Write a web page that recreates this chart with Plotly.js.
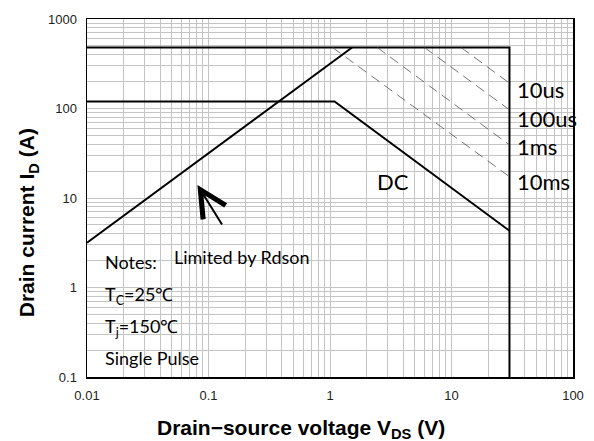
<!DOCTYPE html>
<html>
<head>
<meta charset="utf-8">
<script src="https://cdn.plot.ly/plotly-3.0.1.min.js"></script>
<style>html,body{margin:0;padding:0;background:#fff;}#chart{width:594px;height:441px;}</style>
</head>
<body>
<div id="chart"></div>
<script>
// ---- data ----
const xTickVals = [0.01, 0.1, 1, 10, 100];
const xTickText = ["0.01", "0.1", "1", "10", "100"];
const yTickVals = [0.1, 1, 10, 100, 1000];
const yTickText = ["0.1", "1", "10", "100", "1000"];

// package / BVDSS limit (480 A, 30 V)
const limitV = [0.01, 30, 30];
const limitI = [480, 480, 0.1];
// Rdson limit
const rdsonV = [0.01, 1.52];
const rdsonI = [3.16, 480];
// DC line
const dcV = [0.01, 1.09, 30];
const dcI = [120, 120, 4.3];
// pulse lines
const pulseNames = ["10us", "100us", "1ms", "10ms"];
const pulseStartV = [12, 6.0, 2.45, 1.05];
const pulseEndV = [30, 30, 30, 30];
const pulseStartI = [480, 480, 480, 480];
const pulseEndI = [192, 96.6, 39.2, 17.3];
const pulseLabelI = [165, 78, 38, 15.2];

const traces = [];
traces.push({x: limitV, y: limitI, mode: 'lines', line: {color: '#000', width: 2}, hoverinfo: 'skip'});
traces.push({x: rdsonV, y: rdsonI, mode: 'lines', line: {color: '#000', width: 2}, hoverinfo: 'skip'});
traces.push({x: dcV, y: dcI, mode: 'lines', line: {color: '#000', width: 2}, hoverinfo: 'skip'});
for (let i = 0; i < pulseNames.length; i++) {
  traces.push({x: [pulseStartV[i], pulseEndV[i]], y: [pulseStartI[i], pulseEndI[i]], mode: 'lines',
    line: {color: '#505050', width: 0.8, dash: '10px,6px'}, hoverinfo: 'skip'});
}

const L = Math.log10;
const noteFont = {family: 'Lato, Carlito, sans-serif', size: 18, color: '#000'};
const labelFont = {family: 'Lato, Carlito, sans-serif', size: 22, color: '#000'};
const annotations = [];
for (let i = 0; i < pulseNames.length; i++) {
  annotations.push({x: L(33.5), y: L(pulseLabelI[i]), text: pulseNames[i], showarrow: false,
    xanchor: 'left', yanchor: 'middle', font: labelFont, xref: 'x', yref: 'y'});
}
annotations.push({x: L(3.3), y: L(15.2), text: 'DC', showarrow: false, xanchor: 'center', yanchor: 'middle', font: labelFont});
annotations.push({x: L(0.0136), y: L(1.94), text: 'Notes:', showarrow: false, xanchor: 'left', yanchor: 'middle', font: noteFont});
annotations.push({x: L(0.0501), y: L(2.17), text: 'Limited by Rdson', showarrow: false, xanchor: 'left', yanchor: 'middle', font: noteFont});
annotations.push({x: L(0.0136), y: L(0.82), text: 'T<sub>C</sub>=25℃', showarrow: false, xanchor: 'left', yanchor: 'middle', font: noteFont});
annotations.push({x: L(0.0136), y: L(0.36), text: 'T<sub>j</sub>=150℃', showarrow: false, xanchor: 'left', yanchor: 'middle', font: noteFont});
annotations.push({x: L(0.0136), y: L(0.162), text: 'Single Pulse', showarrow: false, xanchor: 'left', yanchor: 'middle', font: noteFont});
// arrow
annotations.push({x: L(0.081), y: L(14), ax: L(0.1315), ay: L(4.86), axref: 'x', ayref: 'y',
  text: '', showarrow: true, arrowhead: 5, arrowsize: 2.6, arrowwidth: 2, arrowcolor: '#000'});
// axis titles
const titleFont = {family: 'Liberation Sans, Arial, sans-serif', size: 21, color: '#000'};
annotations.push({xref: 'paper', yref: 'paper', x: 0.44, y: -0.1455, text: '<b>Drain\u2212source voltage V<sub>DS</sub> (V)</b>',
  showarrow: false, xanchor: 'center', yanchor: 'middle', font: titleFont});
annotations.push({xref: 'paper', yref: 'paper', x: -0.121, y: 0.43, text: '<b>Drain current I<sub>D</sub> (A)</b>',
  showarrow: false, xanchor: 'center', yanchor: 'middle', textangle: -90, font: titleFont});

const axisCommon = {
  type: 'log', showline: true, linecolor: '#000', linewidth: 1.5, mirror: true,
  showgrid: true, gridcolor: '#c4c4c4', gridwidth: 1, zeroline: false, ticks: '',
  tickfont: {family: 'Liberation Sans, Arial, sans-serif', size: 13, color: '#222'},
  ticklabelstandoff: 6,
  minor: {showgrid: true, gridcolor: '#c4c4c4', gridwidth: 1, dtick: 'D1'}
};

const layout = {
  width: 594, height: 441,
  margin: {l: 87, r: 21, t: 19, b: 64},
  paper_bgcolor: '#fff', plot_bgcolor: '#fff',
  showlegend: false,
  xaxis: Object.assign({}, axisCommon, {range: [-2, 2], tickvals: xTickVals, ticktext: xTickText}),
  yaxis: Object.assign({}, axisCommon, {range: [-1, 3], tickvals: yTickVals, ticktext: yTickText}),
  annotations: annotations
};

Plotly.newPlot('chart', traces, layout, {staticPlot: true, displayModeBar: false});
</script>
</body>
</html>
